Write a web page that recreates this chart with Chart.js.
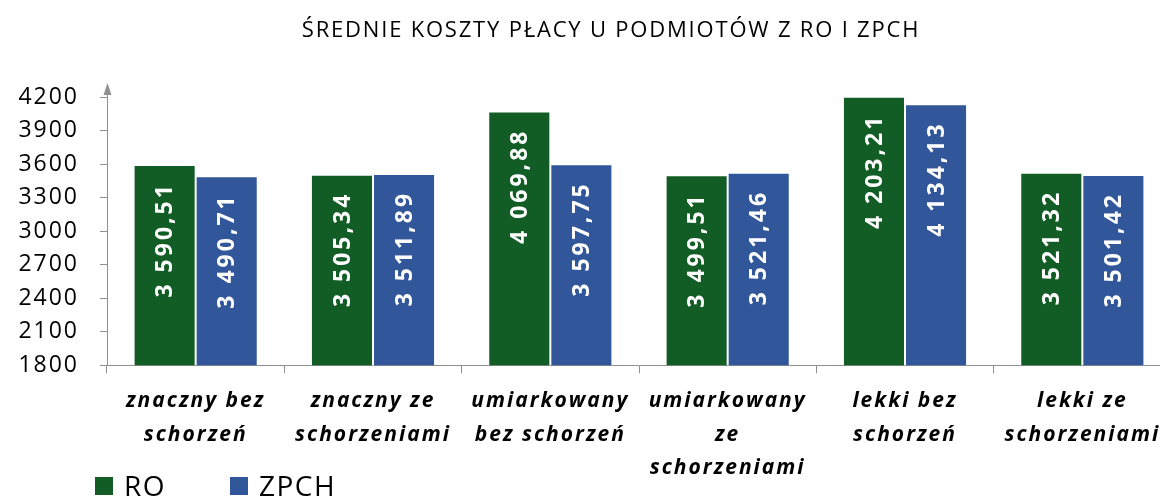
<!DOCTYPE html>
<html>
<head>
<meta charset="utf-8">
<script src="https://cdn.jsdelivr.net/npm/chart.js@4"></script>
<style>
	html, body { margin: 0; padding: 0; background: #fff; overflow: hidden; }
	#wrap { width: 1171px; height: 497px; }
</style>
</head>
<body>
<div id="wrap"><canvas id="cost-chart"></canvas></div>
<script>
	var title = 'ŚREDNIE KOSZTY PŁACY U PODMIOTÓW Z RO I ZPCH';
	var categories = [
		['znaczny bez', 'schorzeń'],
		['znaczny ze', 'schorzeniami'],
		['umiarkowany', 'bez schorzeń'],
		['umiarkowany', 'ze', 'schorzeniami'],
		['lekki bez', 'schorzeń'],
		['lekki ze', 'schorzeniami']
	];
	var roValues = [3590.51, 3505.34, 4069.88, 3499.51, 4203.21, 3521.32];
	var zpchValues = [3490.71, 3511.89, 3597.75, 3521.46, 4134.13, 3501.42];
	var yTicks = { min: 1800, max: 4200, step: 300 };

	var green = '#125c25';
	var blue = '#31569a';
	var axisGrey = '#8f8f8f';

	Chart.defaults.font.family = '"Open Sans", sans-serif';
	Chart.defaults.color = '#000';

	function fmt(v) {
		var parts = v.toFixed(2).split('.');
		return parts[0].replace(/\B(?=(\d{3})+(?!\d))/g, ' ') + ',' + parts[1];
	}

	var spacingPlugin = {
		id: 'spacing',
		beforeDraw: function(chart) {
			chart.ctx.letterSpacing = '2px';
		}
	};

	// value labels inside the bars, rotated, anchored near the top
	var barLabels = {
		id: 'barLabels',
		afterDatasetsDraw: function(chart) {
			var ctx = chart.ctx;
			ctx.save();
			ctx.letterSpacing = '3px';
			ctx.fillStyle = '#fff';
			ctx.font = 'bold 23px "Open Sans"';
			ctx.textAlign = 'right';
			ctx.textBaseline = 'middle';
			chart.data.datasets.forEach(function(ds, i) {
				chart.getDatasetMeta(i).data.forEach(function(bar, j) {
					ctx.save();
					ctx.translate(bar.x + 1, bar.y + 17);
					ctx.rotate(-Math.PI / 2);
					ctx.fillText(fmt(ds.data[j]), 0, 0);
					ctx.restore();
				});
			});
			ctx.restore();
		}
	};

	var decorations = {
		id: 'decorations',
		afterDraw: function(chart) {
			var ctx = chart.ctx;
			var area = chart.chartArea;
			ctx.save();
			// title
			ctx.letterSpacing = '1.8px';
			ctx.fillStyle = '#000';
			ctx.font = '22px "Open Sans"';
			ctx.textAlign = 'center';
			ctx.textBaseline = 'middle';
			ctx.fillText(title, 611, 31);

			// arrow on the y axis
			var x = area.left;
			ctx.strokeStyle = axisGrey;
			ctx.fillStyle = axisGrey;
			ctx.lineWidth = 1;
			ctx.beginPath();
			ctx.moveTo(x + 0.5, area.top);
			ctx.lineTo(x + 0.5, 92);
			ctx.stroke();
			ctx.beginPath();
			ctx.moveTo(x + 0.5, 83);
			ctx.lineTo(x - 3.5, 95);
			ctx.lineTo(x + 4.5, 95);
			ctx.closePath();
			ctx.fill();

			// legend
			ctx.letterSpacing = '1.5px';
			ctx.font = '28px "Open Sans"';
			ctx.textAlign = 'left';
			ctx.textBaseline = 'alphabetic';
			var items = [
				{ label: chart.data.datasets[0].label, color: green, x: 95 },
				{ label: chart.data.datasets[1].label, color: blue, x: 230 }
			];
			items.forEach(function(it) {
				ctx.fillStyle = it.color;
				ctx.fillRect(it.x, 477, 18, 18);
				ctx.fillStyle = '#000';
				ctx.fillText(it.label, it.x + 29, 496);
			});
			ctx.restore();
		}
	};

	var barClip = { left: 0, top: false, right: 0, bottom: 0 };

	var data = {
		labels: categories,
		datasets: [
			{
				label: 'RO',
				data: roValues,
				backgroundColor: green,
				borderColor: 'rgba(255,255,255,0.7)',
				borderWidth: 1,
				clip: barClip
			},
			{
				label: 'ZPCH',
				data: zpchValues,
				backgroundColor: blue,
				borderColor: 'rgba(255,255,255,0.7)',
				borderWidth: 1,
				clip: barClip
			}
		]
	};

	var options = {
		responsive: true,
		maintainAspectRatio: false,
		animation: false,
		layout: {
			padding: { top: 97, right: 0, bottom: 1, left: 0 }
		},
		plugins: {
			legend: { display: false },
			title: { display: false },
			tooltip: { enabled: false }
		},
		datasets: {
			bar: { categoryPercentage: 0.7, barPercentage: 1.0 }
		},
		scales: {
			x: {
				grid: {
					display: true,
					drawOnChartArea: false,
					drawTicks: true,
					tickLength: 8,
					color: axisGrey
				},
				border: { color: axisGrey },
				ticks: {
					autoSkip: false,
					maxRotation: 0,
					minRotation: 0,
					padding: 11,
					font: { size: 21, weight: 'bold', style: 'italic', lineHeight: 1.6 }
				}
			},
			y: {
				min: yTicks.min,
				max: yTicks.max,
				afterFit: function(scale) { scale.width = 107; },
				grid: {
					display: true,
					drawOnChartArea: false,
					drawTicks: true,
					tickLength: 7,
					color: axisGrey
				},
				border: { color: axisGrey },
				ticks: {
					stepSize: yTicks.step,
					padding: 21,
					font: { size: 23 },
					callback: function(value) { return String(value); }
				}
			}
		}
	};

	var chart = new Chart(document.getElementById('cost-chart'), {
		type: 'bar',
		data: data,
		options: options,
		plugins: [spacingPlugin, barLabels, decorations]
	});
</script>
</body>
</html>
